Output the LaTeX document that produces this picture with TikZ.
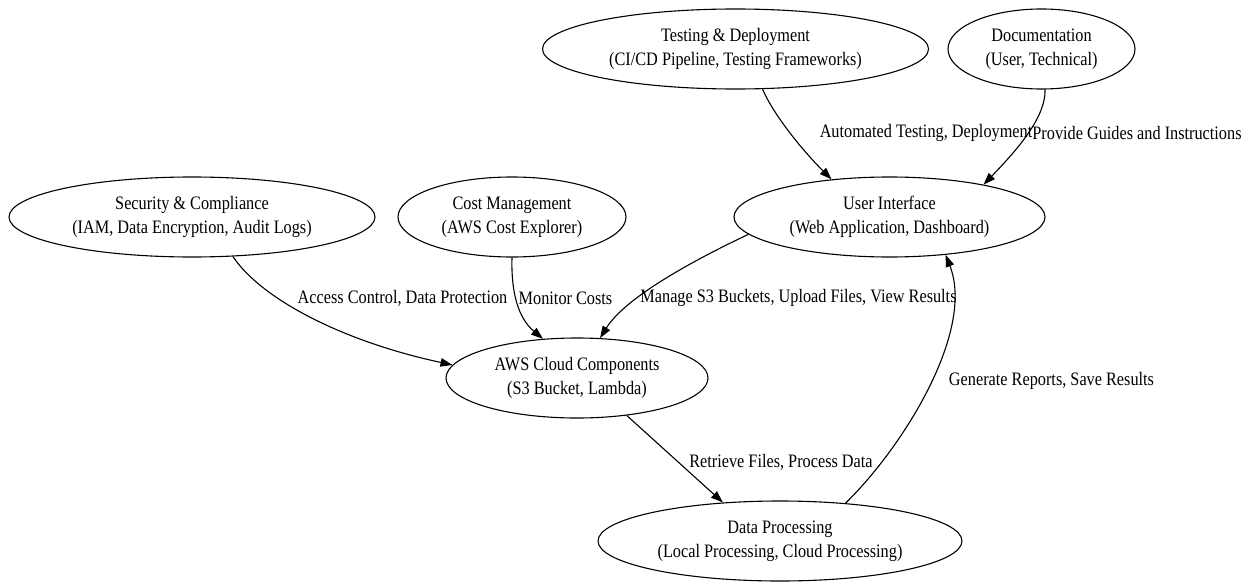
\documentclass[tikz,border=0pt]{standalone}
\usepackage{fontspec}
\setmainfont{Liberation Serif}[FakeStretch=0.856]
\usetikzlibrary{arrows.meta,shapes.geometric}
\begin{document}
\begin{tikzpicture}[x=1pt,y=-1pt,
  box/.style={ellipse,draw,line width=1.1pt,inner sep=0pt,align=center,minimum height=80pt,font=\fontsize{19}{24}\selectfont},
  lbl/.style={inner sep=0pt,font=\fontsize{19}{24}\selectfont},
  conn/.style={line width=1.1pt,-{Triangle[length=12pt,width=8.5pt]}}]
\useasboundingbox (0,0) rectangle (1244,583);
\node[box,minimum width=386pt] (test) at (735.5,49) {Testing \& Deployment\\(CI/CD Pipeline, Testing Frameworks)};
\node[box,minimum width=187pt] (doc) at (1041.5,49) {Documentation\\(User, Technical)};
\node[box,minimum width=366pt] (sec) at (192,217) {Security \& Compliance\\(IAM, Data Encryption, Audit Logs)};
\node[box,minimum width=228pt] (cost) at (512,217) {Cost Management\\(AWS Cost Explorer)};
\node[box,minimum width=311pt] (ui) at (889.5,217) {User Interface\\(Web Application, Dashboard)};
\node[box,minimum width=262pt] (aws) at (577,378) {AWS Cloud Components\\(S3 Bucket, Lambda)};
\node[box,minimum width=364pt] (data) at (780,541) {Data Processing\\(Local Processing, Cloud Processing)};
\draw[conn] (test.-56) .. controls (772,112) and (800,148) .. (ui.147);
\draw[conn] (doc.-85) .. controls (1046,118) and (1015,152) .. (ui.19);
\draw[conn] (sec.-44) .. controls (262,300) and (345,342) .. (aws.174);
\draw[conn] (cost.-90) .. controls (511,292) and (518,318) .. (aws.131);
\draw[conn] (ui.-173) .. controls (690,262) and (625,298) .. (aws.60);
\draw[conn] (aws.-37) -- (data.146);
\draw[conn] (data.30) .. controls (905,445) and (975,330) .. (ui.-34);
\node[lbl] (l1) at (926,133) {Automated Testing, Deployment};
\node[lbl] (l2) at (1137,133) {Provide Guides and Instructions};
\node[lbl] (l3) at (402.5,298) {Access Control, Data Protection};
\node[lbl] (l4) at (565.5,298) {Monitor Costs};
\node[lbl] (l5) at (798.5,298) {Manage S3 Buckets, Upload Files, View Results};
\node[lbl] (l6) at (781,462) {Retrieve Files, Process Data};
\node[lbl] (l7) at (1051.5,381) {Generate Reports, Save Results};
\end{tikzpicture}
\end{document}
